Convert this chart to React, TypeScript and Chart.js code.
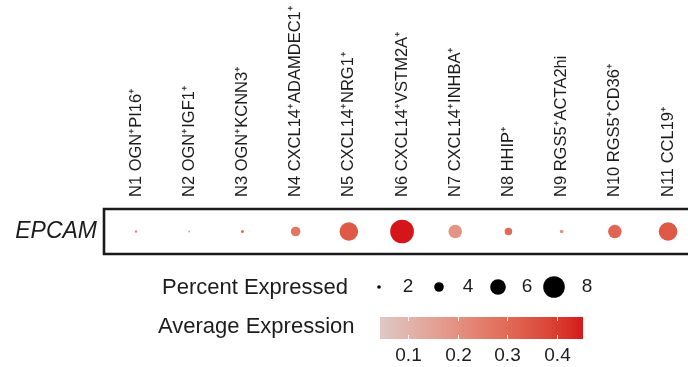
import React, { useEffect, useRef } from "react";
import { Chart, registerables } from "chart.js";

Chart.register(...registerables);

const clusters = [
  "N1 OGN⁺PI16⁺",
  "N2 OGN⁺IGF1⁺",
  "N3 OGN⁺KCNN3⁺",
  "N4 CXCL14⁺ADAMDEC1⁺",
  "N5 CXCL14⁺NRG1⁺",
  "N6 CXCL14⁺VSTM2A⁺",
  "N7 CXCL14⁺INHBA⁺",
  "N8 HHIP⁺",
  "N9 RGS5⁺ACTA2hi",
  "N10 RGS5⁺CD36⁺",
  "N11 CCL19⁺",
];
const genes = ["EPCAM"];
const pctExpressed = [1.6, 1.4, 1.8, 4.0, 7.0, 8.7, 5.3, 3.3, 2.0, 5.3, 7.0];
const avgExpression = [0.22, 0.16, 0.3, 0.27, 0.34, 0.453, 0.19, 0.3, 0.2, 0.31, 0.34];
const sizeBreaks = [2, 4, 6, 8];
const colorBreaks = [0.1, 0.2, 0.3, 0.4];
const colorMin = 0.043;
const colorMax = 0.453;
const lowColor = [221, 200, 197];
const highColor = [212, 22, 26];

const FONT = '"Liberation Sans", Arial, sans-serif';
const TEXT = "#1c1c1c";

function radiusFor(p: number) {
  return Math.max(0.6, 1.5 * p - 1.2);
}

// sRGB <-> Lab for ggplot-like gradient
function srgbToLin(c: number) {
  c /= 255;
  return c <= 0.04045 ? c / 12.92 : Math.pow((c + 0.055) / 1.055, 2.4);
}
function linToSrgb(c: number) {
  const v = c <= 0.0031308 ? 12.92 * c : 1.055 * Math.pow(c, 1 / 2.4) - 0.055;
  return Math.max(0, Math.min(255, Math.round(v * 255)));
}
const Xn = 0.95047, Yn = 1.0, Zn = 1.08883;
function f(t: number) {
  return t > 216 / 24389 ? Math.cbrt(t) : (24389 / 27 * t + 16) / 116;
}
function finv(t: number) {
  return t * t * t > 216 / 24389 ? t * t * t : (116 * t - 16) / (24389 / 27);
}
function toLab(rgb: number[]) {
  const r = srgbToLin(rgb[0]), g = srgbToLin(rgb[1]), b = srgbToLin(rgb[2]);
  const x = (0.4124 * r + 0.3576 * g + 0.1805 * b) / Xn;
  const y = (0.2126 * r + 0.7152 * g + 0.0722 * b) / Yn;
  const z = (0.0193 * r + 0.1192 * g + 0.9505 * b) / Zn;
  const fx = f(x), fy = f(y), fz = f(z);
  return [116 * fy - 16, 500 * (fx - fy), 200 * (fy - fz)];
}
function fromLab(lab: number[]) {
  const fy = (lab[0] + 16) / 116;
  const fx = fy + lab[1] / 500;
  const fz = fy - lab[2] / 200;
  const x = finv(fx) * Xn, y = finv(fy) * Yn, z = finv(fz) * Zn;
  const r = 3.2406 * x - 1.5372 * y - 0.4986 * z;
  const g = -0.9689 * x + 1.8758 * y + 0.0415 * z;
  const b = 0.0557 * x - 0.204 * y + 1.057 * z;
  return [linToSrgb(r), linToSrgb(g), linToSrgb(b)];
}
const lowLab = toLab(lowColor);
const highLab = toLab(highColor);
function colorFor(v: number) {
  const t = Math.max(0, Math.min(1, (v - colorMin) / (colorMax - colorMin)));
  const lab = lowLab.map((a, i) => a + (highLab[i] - a) * t);
  const c = fromLab(lab);
  return `rgb(${c[0]},${c[1]},${c[2]})`;
}

const framePlugin = {
  id: "frame",
  afterDatasetsDraw(chart: any) {
    const { ctx, chartArea } = chart;
    ctx.save();
    ctx.strokeStyle = "#1a1a1a";
    ctx.lineWidth = 2.6;
    ctx.beginPath();
    ctx.moveTo(chartArea.right + 10, chartArea.top);
    ctx.lineTo(chartArea.left, chartArea.top);
    ctx.lineTo(chartArea.left, chartArea.bottom);
    ctx.lineTo(chartArea.right + 10, chartArea.bottom);
    ctx.stroke();
    ctx.restore();
  },
};

const xLabelPlugin = {
  id: "xLabels",
  afterDraw(chart: any) {
    const { ctx, chartArea } = chart;
    const xs = chart.scales.x;
    ctx.save();
    ctx.fillStyle = TEXT;
    ctx.font = `16.5px ${FONT}`;
    ctx.textAlign = "left";
    ctx.textBaseline = "middle";
    clusters.forEach((name, i) => {
      const px = xs.getPixelForValue(i + 1);
      ctx.save();
      ctx.translate(px, chartArea.top - 12);
      ctx.rotate(-Math.PI / 2);
      ctx.fillText(name, 0, 0);
      ctx.restore();
    });
    ctx.restore();
  },
};

const legendPlugin = {
  id: "dotLegends",
  afterDraw(chart: any) {
    const ctx = chart.ctx;
    ctx.save();
    ctx.fillStyle = TEXT;
    ctx.textBaseline = "middle";
    // size legend
    ctx.font = `22px ${FONT}`;
    ctx.textAlign = "left";
    ctx.fillText("Percent Expressed", 162, 288);
    const dotX = [379, 439, 498, 554];
    const labX = [408, 468, 527, 587];
    sizeBreaks.forEach((b, i) => {
      ctx.fillStyle = "#000";
      ctx.beginPath();
      ctx.arc(dotX[i], 287, radiusFor(b), 0, Math.PI * 2);
      ctx.fill();
      ctx.fillStyle = TEXT;
      ctx.font = `19px ${FONT}`;
      ctx.textAlign = "center";
      ctx.fillText(String(b), labX[i], 287);
    });
    // color legend
    ctx.font = `22px ${FONT}`;
    ctx.textAlign = "left";
    ctx.fillText("Average Expression", 158, 327);
    const barL = 380, barR = 583, barT = 317, barB = 339;
    for (let x = barL; x < barR; x++) {
      const v = colorMin + ((x + 0.5 - barL) / (barR - barL)) * (colorMax - colorMin);
      ctx.fillStyle = colorFor(v);
      ctx.fillRect(x, barT, 1, barB - barT);
    }
    ctx.strokeStyle = "rgba(255,255,255,0.9)";
    ctx.lineWidth = 1;
    ctx.font = `19px ${FONT}`;
    ctx.textAlign = "center";
    colorBreaks.forEach((b) => {
      const x = Math.round(barL + ((b - colorMin) / (colorMax - colorMin)) * (barR - barL)) + 0.5;
      ctx.beginPath();
      ctx.moveTo(x, barT);
      ctx.lineTo(x, barT + 4);
      ctx.moveTo(x, barB);
      ctx.lineTo(x, barB - 4);
      ctx.stroke();
      ctx.fillStyle = TEXT;
      ctx.fillText(b.toFixed(1), x, 356);
    });
    ctx.restore();
  },
};

export default function App() {
  const ref = useRef<HTMLCanvasElement | null>(null);
  useEffect(() => {
    if (!ref.current) return;
    const chart = new Chart(ref.current, {
      type: "scatter",
      data: {
        datasets: [
          {
            label: genes[0],
            data: clusters.map((_, i) => ({ x: i + 1, y: 1 })),
            pointRadius: (c: any) => radiusFor(pctExpressed[c.dataIndex]),
            pointHoverRadius: (c: any) => radiusFor(pctExpressed[c.dataIndex]),
            backgroundColor: (c: any) => colorFor(avgExpression[c.dataIndex]),
            borderWidth: 0,
          },
        ],
      },
      options: {
        animation: false,
        responsive: false,
        maintainAspectRatio: false,
        layout: { autoPadding: false, padding: { left: 0, right: 0, top: 0, bottom: 113 } },
        plugins: { legend: { display: false }, tooltip: { enabled: false } },
        scales: {
          x: {
            type: "linear",
            position: "top",
            min: 0.398,
            max: 11.375,
            grid: { display: false, drawTicks: false },
            border: { display: false },
            afterBuildTicks: (s: any) => {
              s.ticks = clusters.map((_, i) => ({ value: i + 1 }));
            },
            afterFit: (s: any) => {
              s.height = 209;
            },
            ticks: { display: false },
          },
          y: {
            type: "linear",
            min: 0,
            max: 2,
            grid: { display: false, drawTicks: false },
            border: { display: false },
            afterBuildTicks: (s: any) => {
              s.ticks = genes.map(() => ({ value: 1 }));
            },
            afterFit: (s: any) => {
              s.width = 104;
            },
            ticks: {
              padding: 7,
              color: TEXT,
              font: { family: FONT, size: 23, style: "italic" },
              callback: () => genes[0],
            },
          },
        },
      },
      plugins: [framePlugin, xLabelPlugin, legendPlugin],
    } as any);
    return () => chart.destroy();
  }, []);
  return (
    <div style={{ position: "fixed", left: 0, top: 0, width: 688, height: 367, background: "#fff" }}>
      <canvas ref={ref} width={688} height={367} style={{ width: 688, height: 367 }} />
    </div>
  );
}
